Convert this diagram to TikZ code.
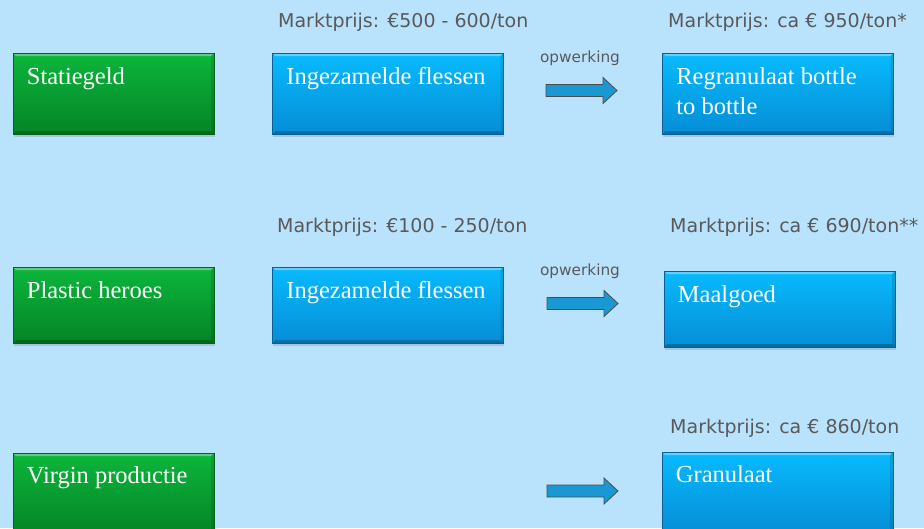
\documentclass[tikz,border=0pt]{standalone}
\usepackage{fontspec}
\setmainfont{Liberation Serif}
\newfontfamily\pricefont{DejaVu Sans}
\usetikzlibrary{positioning,shadows}

\definecolor{bgblue}{RGB}{185,227,253}
\definecolor{greentop}{RGB}{12,182,60}
\definecolor{greenbot}{RGB}{4,132,38}
\definecolor{greenedge}{RGB}{0,100,30}
\definecolor{bluetop}{RGB}{8,186,253}
\definecolor{bluebot}{RGB}{6,142,214}
\definecolor{blueedge}{RGB}{10,96,150}
\definecolor{arrowfill}{RGB}{26,152,212}
\definecolor{pricegray}{RGB}{89,89,89}

\begin{document}
\begin{tikzpicture}[
    x=1pt, y=-1pt,
    % bevelled boxes
    bevel/.style={path picture={
        \fill[white, opacity=0.35] (path picture bounding box.north west) -- (path picture bounding box.north east)
          -- ([xshift=-3pt,yshift=-3pt]path picture bounding box.north east) -- ([xshift=3pt,yshift=-3pt]path picture bounding box.north west) -- cycle;
        \fill[black, opacity=0.22] (path picture bounding box.south west) -- (path picture bounding box.south east)
          -- ([xshift=-3pt,yshift=3pt]path picture bounding box.south east) -- ([xshift=3pt,yshift=3pt]path picture bounding box.south west) -- cycle;
        \fill[black, opacity=0.12] (path picture bounding box.north east) -- (path picture bounding box.south east)
          -- ([xshift=-3pt,yshift=3pt]path picture bounding box.south east) -- ([xshift=-3pt,yshift=-3pt]path picture bounding box.north east) -- cycle;
      }},
    box/.style={rectangle, inner sep=0pt, minimum height=81pt, bevel, line width=0.6pt,
      drop shadow={shadow xshift=0.5pt, shadow yshift=-2.5pt, opacity=0.3}},
    sourcebox/.style={box, minimum width=201pt, top color=greentop, bottom color=greenbot, draw=greenedge},
    flowbox/.style={box, minimum width=231pt, top color=bluetop, bottom color=bluebot, draw=blueedge},
    boxtext/.style={anchor=north west, inner sep=0pt, text=white, align=left,
      font=\fontsize{24.5}{30}\selectfont},
    price/.style={anchor=west, inner sep=0pt, text=pricegray, font=\pricefont\fontsize{19}{23}\selectfont},
    steptext/.style={inner sep=0pt, text=pricegray, font=\pricefont\fontsize{15.3}{18}\selectfont},
    blockarrow/.style={draw=black!70, fill=arrowfill, line width=0.8pt, line join=miter}
  ]
  \clip (0,0) rectangle (924,528);
  \fill[bgblue] (0,0) rectangle (924,528);

  % statiegeld
  \node[price] (p1a) at (278,22) {Marktprijs: €500 - 600/ton};
  \node[price] (p1b) at (668,22) {Marktprijs: ca € 950/ton*};
  \node[sourcebox] (statiegeld) at (113.5,93.5) {};
  \node[boxtext] at ([xshift=14pt,yshift=-14.3pt]statiegeld.north west) {Statiegeld};
  \node[flowbox] (flessen1) at (388,93.5) {};
  \node[boxtext] at ([xshift=14pt,yshift=-14.3pt]flessen1.north west) {Ingezamelde flessen};
  \node[steptext] (opw1) at (580,58) {opwerking};
  \coordinate (arrow1) at (546,90.5);
  \draw[blockarrow, shift={(arrow1)}] (0,-6) -- (57,-6) -- (57,-13) -- (71,0) -- (57,13) -- (57,6) -- (0,6) -- cycle;
  \node[flowbox] (regranulaat) at (778,93.5) {};
  \node[boxtext] at ([xshift=14pt,yshift=-14.3pt]regranulaat.north west) {Regranulaat bottle\\to bottle};

  % plastic heroes
  \node[price] (p2a) at (277,227) {Marktprijs: €100 - 250/ton};
  \node[price] (p2b) at (670,227) {Marktprijs: ca € 690/ton**};
  \node[sourcebox, minimum height=76pt] (heroes) at (113.5,305) {};
  \node[boxtext] at ([xshift=14pt,yshift=-14.3pt]heroes.north west) {Plastic heroes};
  \node[flowbox, minimum height=76pt] (flessen2) at (388,305) {};
  \node[boxtext] at ([xshift=14pt,yshift=-14.3pt]flessen2.north west) {Ingezamelde flessen};
  \node[steptext] (opw2) at (580,271) {opwerking};
  \coordinate (arrow2) at (547,303.5);
  \draw[blockarrow, shift={(arrow2)}] (0,-6) -- (57,-6) -- (57,-13) -- (71,0) -- (57,13) -- (57,6) -- (0,6) -- cycle;
  \node[flowbox, minimum height=76pt] (maalgoed) at (779.5,309) {};
  \node[boxtext] at ([xshift=14pt,yshift=-14.3pt]maalgoed.north west) {Maalgoed};

  % virgin
  \node[price] (p3) at (670,428) {Marktprijs: ca € 860/ton};
  \node[sourcebox] (virgin) at (113.5,493.5) {};
  \node[boxtext] at ([xshift=14pt,yshift=-13.3pt]virgin.north west) {Virgin productie};
  \coordinate (arrow3) at (547,491);
  \draw[blockarrow, shift={(arrow3)}] (0,-6) -- (57,-6) -- (57,-13) -- (71,0) -- (57,13) -- (57,6) -- (0,6) -- cycle;
  \node[flowbox] (granulaat) at (777.5,492.5) {};
  \node[boxtext] at ([xshift=14pt,yshift=-13.3pt]granulaat.north west) {Granulaat};
\end{tikzpicture}
\end{document}
